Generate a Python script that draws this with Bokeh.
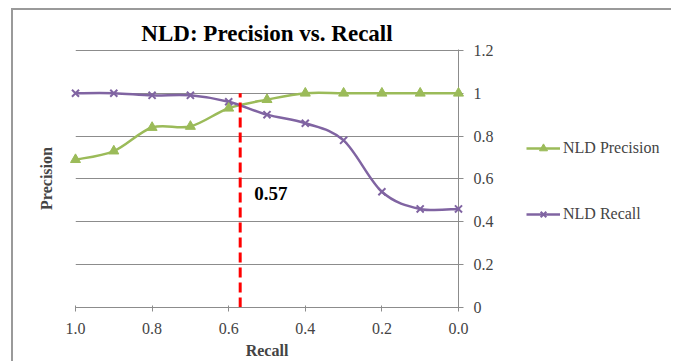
from bokeh.plotting import figure
from bokeh.layouts import row
from bokeh.models import (ColumnDataSource, Range1d, LinearAxis, FixedTicker,
                          NumeralTickFormatter, Legend, LegendItem, Label)
from bokeh.embed import file_html
from bokeh.resources import INLINE

# ---- data ----
recall_x = [1.0, 0.9, 0.8, 0.7, 0.6, 0.5, 0.4, 0.3, 0.2, 0.1, 0.0]
precision_vals = [0.69, 0.73, 0.84, 0.845, 0.93, 0.97, 1.0, 1.0, 1.0, 1.0, 1.0]
recall_vals = [1.0, 1.0, 0.99, 0.99, 0.96, 0.90, 0.86, 0.78, 0.54, 0.46, 0.46]
series_names = ["NLD Precision", "NLD Recall"]
cutoff = 0.57
cutoff_top = 1.0
cutoff_label = "0.57"
x_ticks = [1.0, 0.8, 0.6, 0.4, 0.2, 0.0]
y_ticks = [0, 0.2, 0.4, 0.6, 0.8, 1.0, 1.2]

FONT = "Liberation Serif"
GREEN = "#9BBB59"
PURPLE = "#8064A2"
GRID = "#8c8c8c"
BORDER = "2px solid #9a9a9a"


def smooth_segments(xs, ys):
    """Bezier control points (Catmull-Rom style) for a smoothed line through the data."""
    n = len(xs)
    px = [xs[0]] + list(xs) + [xs[-1]]
    py = [ys[0]] + list(ys) + [ys[-1]]
    d = dict(x0=[], y0=[], x1=[], y1=[], cx0=[], cy0=[], cx1=[], cy1=[])
    for k in range(n - 1):
        p0x, p1x, p2x, p3x = px[k], px[k + 1], px[k + 2], px[k + 3]
        p0y, p1y, p2y, p3y = py[k], py[k + 1], py[k + 2], py[k + 3]
        d["x0"].append(p1x); d["y0"].append(p1y)
        d["x1"].append(p2x); d["y1"].append(p2y)
        d["cx0"].append(p1x + (p2x - p0x) / 6.0)
        d["cy0"].append(p1y + (p2y - p0y) / 6.0)
        d["cx1"].append(p2x - (p3x - p1x) / 6.0)
        d["cy1"].append(p2y - (p3y - p1y) / 6.0)
    return ColumnDataSource(d)


# ---------------- main chart ----------------
p = figure(width=500, height=353, x_range=Range1d(1.0, 0.0), y_range=Range1d(0, 1.204),
           y_axis_location="right", output_backend="svg", toolbar_location=None,
           min_border_left=62, min_border_right=55, min_border_top=39, min_border_bottom=56,
           margin=(8, 0, 0, 11))
p.styles = {"border-top": BORDER, "border-left": BORDER}
p.outline_line_color = None
p.background_fill_color = "white"
p.border_fill_color = "white"

p.title.text = "NLD: Precision vs. Recall"
p.title.align = "center"
p.title.text_font = FONT
p.title.text_font_size = "23px"
p.title.text_font_style = "bold"
p.title.text_color = "black"
p.title.standoff = 8

xa = p.xaxis[0]
xa.ticker = FixedTicker(ticks=x_ticks)
xa.formatter = NumeralTickFormatter(format="0.0")
xa.axis_label = "Recall"
xa.axis_label_text_font = FONT
xa.axis_label_text_font_style = "bold"
xa.axis_label_text_font_size = "16px"
xa.axis_label_standoff = 5
xa.major_label_text_font = FONT
xa.major_label_text_font_size = "16px"
xa.major_label_standoff = 11
xa.axis_line_color = GRID
xa.major_tick_line_color = GRID
xa.major_tick_in = 2
xa.major_tick_out = 4
xa.minor_tick_line_color = None

ya = p.yaxis[0]
ya.ticker = FixedTicker(ticks=y_ticks)
ya.formatter = NumeralTickFormatter(format="0.[0]")
ya.major_label_text_font = FONT
ya.major_label_text_font_size = "16px"
ya.major_label_standoff = 10
ya.axis_line_color = GRID
ya.major_tick_line_color = GRID
ya.major_tick_in = 0
ya.major_tick_out = 5
ya.minor_tick_line_color = None

la = LinearAxis(ticker=FixedTicker(ticks=[]), axis_label="Precision",
                axis_line_color=None, major_tick_line_color=None, minor_tick_line_color=None,
                axis_label_standoff=21, axis_label_text_font=FONT,
                axis_label_text_font_style="bold", axis_label_text_font_size="16px")
p.add_layout(la, "left")

p.xgrid.visible = False
p.ygrid.grid_line_color = GRID
p.ygrid.grid_line_width = 1

src_p = smooth_segments(recall_x, precision_vals)
src_r = smooth_segments(recall_x, recall_vals)
p.bezier(x0="x0", y0="y0", x1="x1", y1="y1", cx0="cx0", cy0="cy0", cx1="cx1", cy1="cy1",
         source=src_p, line_color=GREEN, line_width=2.5)
p.bezier(x0="x0", y0="y0", x1="x1", y1="y1", cx0="cx0", cy0="cy0", cx1="cx1", cy1="cy1",
         source=src_r, line_color=PURPLE, line_width=2.5)

pts = ColumnDataSource(dict(x=recall_x, prec=precision_vals, rec=recall_vals))
p.scatter("x", "rec", source=pts, marker="x", size=10, line_color=PURPLE, line_width=2,
          level="overlay")
p.scatter("x", "prec", source=pts, marker="triangle", size=10, fill_color=GREEN,
          line_color=GREEN, level="overlay")

p.segment(x0=[cutoff], y0=[0], x1=[cutoff], y1=[cutoff_top], line_color="#FF0000",
          line_width=3, line_dash="10 5")
p.add_layout(Label(x=cutoff, y=0.53, x_offset=14, text=cutoff_label, text_font=FONT,
                   text_font_style="bold", text_font_size="19px", text_baseline="middle",
                   text_color="black"))

# ---------------- legend panel (its own frame, so nothing is clipped) ----------------
# The same series are drawn here outside this panel's visible range; only the legend shows.
lg = figure(width=160, height=353, x_range=Range1d(10, 11), y_range=Range1d(10, 11),
            x_axis_location=None, y_axis_location=None, output_backend="svg",
            toolbar_location=None, min_border_left=0, min_border_right=0, min_border_top=0,
            min_border_bottom=0, margin=(8, 0, 0, 0))
lg.styles = {"border-top": BORDER}
lg.outline_line_color = None
lg.xgrid.visible = False
lg.ygrid.visible = False
lg.border_fill_color = "white"
lg.background_fill_color = "white"

lp_line = lg.line("x", "prec", source=pts, line_color=GREEN, line_width=2.5)
lp_mark = lg.scatter("x", "prec", source=pts, marker="triangle", size=10, fill_color=GREEN,
                     line_color=GREEN)
lr_line = lg.line("x", "rec", source=pts, line_color=PURPLE, line_width=2.5)
lr_mark = lg.scatter("x", "rec", source=pts, marker="x", size=10, line_color=PURPLE,
                     line_width=2)

legend = Legend(items=[LegendItem(label=series_names[0], renderers=[lp_line, lp_mark]),
                       LegendItem(label=series_names[1], renderers=[lr_line, lr_mark])],
                location=(15, 83), glyph_width=34, glyph_height=20, label_height=20,
                spacing=46, padding=0, margin=0, border_line_color=None,
                background_fill_alpha=0, label_standoff=3, label_text_font=FONT,
                label_text_font_size="16px")
lg.add_layout(legend)

layout = row(p, lg, spacing=0)
open("out.html", "w").write(file_html(layout, INLINE))
